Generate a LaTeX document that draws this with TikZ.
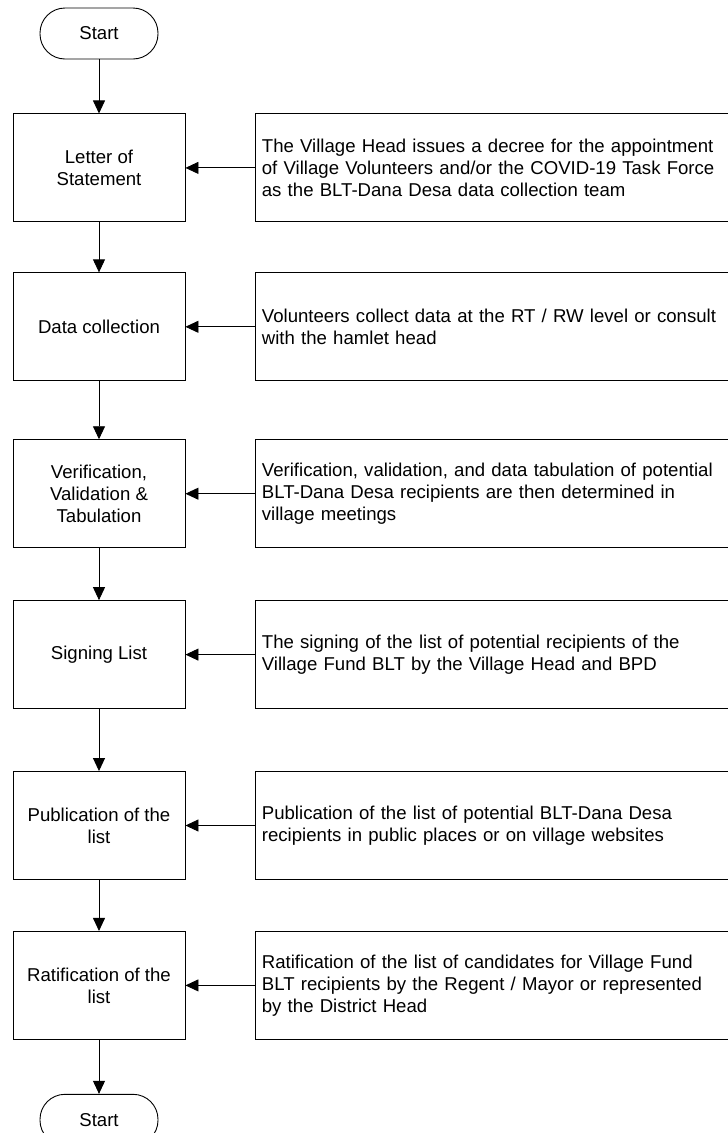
\documentclass[tikz,border=0pt]{standalone}
\usepackage{fontspec}
\setmainfont{Liberation Sans}
\usetikzlibrary{arrows.meta,positioning}

\begin{document}
\begin{tikzpicture}[line width=0.9pt,>={Triangle[width=12pt,length=13pt]},
        every node/.style={font=\fontsize{18.6pt}{22pt}\selectfont},
        terminal/.style={draw,rounded corners=25pt,minimum width=118pt,minimum height=51pt},
        stepbox/.style={draw,align=center,minimum width=172pt,minimum height=108pt},
        notebox/.style={draw,align=left,text width=508pt,inner xsep=6pt,minimum height=108pt}]
        \useasboundingbox (0,0) rectangle (728pt,-1133pt);
        \clip (0,0) rectangle (728pt,-1133pt);

        \node[terminal] (S0) at (99pt,-33.5pt) {Start};
        \begin{scope}[node distance=54pt]
        \node[stepbox,below=of S0] (L1) {Letter of\\Statement};
        \node[stepbox,below=50pt of L1] (L2) {Data collection};
        \node[stepbox,below=58pt of L2] (L3) {Verification,\\Validation \&\\Tabulation};
        \node[stepbox,below=52pt of L3] (L4) {Signing List};
        \node[stepbox,below=62pt of L4] (L5) {Publication of the\\list};
        \node[stepbox,below=51pt of L5] (L6) {Ratification of the\\list};
        \node[terminal,below=of L6] (S1) {Start};
        \end{scope}

        \begin{scope}[node distance=70pt]
        \node[notebox,right=of L1] (R1) {The Village Head issues a decree for the appointment\\of Village Volunteers and/or the COVID-19 Task Force\\as the BLT-Dana Desa data collection team};
        \node[notebox,right=of L2] (R2) {Volunteers collect data at the RT / RW level or consult\\with the hamlet head};
        \node[notebox,right=of L3] (R3) {Verification, validation, and data tabulation of potential\\BLT-Dana Desa recipients are then determined in\\village meetings};
        \node[notebox,right=of L4] (R4) {The signing of the list of potential recipients of the\\Village Fund BLT by the Village Head and BPD};
        \node[notebox,right=of L5] (R5) {Publication of the list of potential BLT-Dana Desa\\recipients in public places or on village websites};
        \node[notebox,right=of L6] (R6) {Ratification of the list of candidates for Village Fund\\BLT recipients by the Regent / Mayor or represented\\by the District Head};
        \end{scope}

        \draw[->] (S0) -- (L1);
        \foreach \i [count=\j from 2] in {1,...,5}
        {\draw[->] (L\i) -- (L\j);}
        \draw[->] (L6) -- (S1);
        \foreach \i in {1,...,6}
        {\draw[->] (R\i) -- (L\i);}
\end{tikzpicture}
\end{document}
